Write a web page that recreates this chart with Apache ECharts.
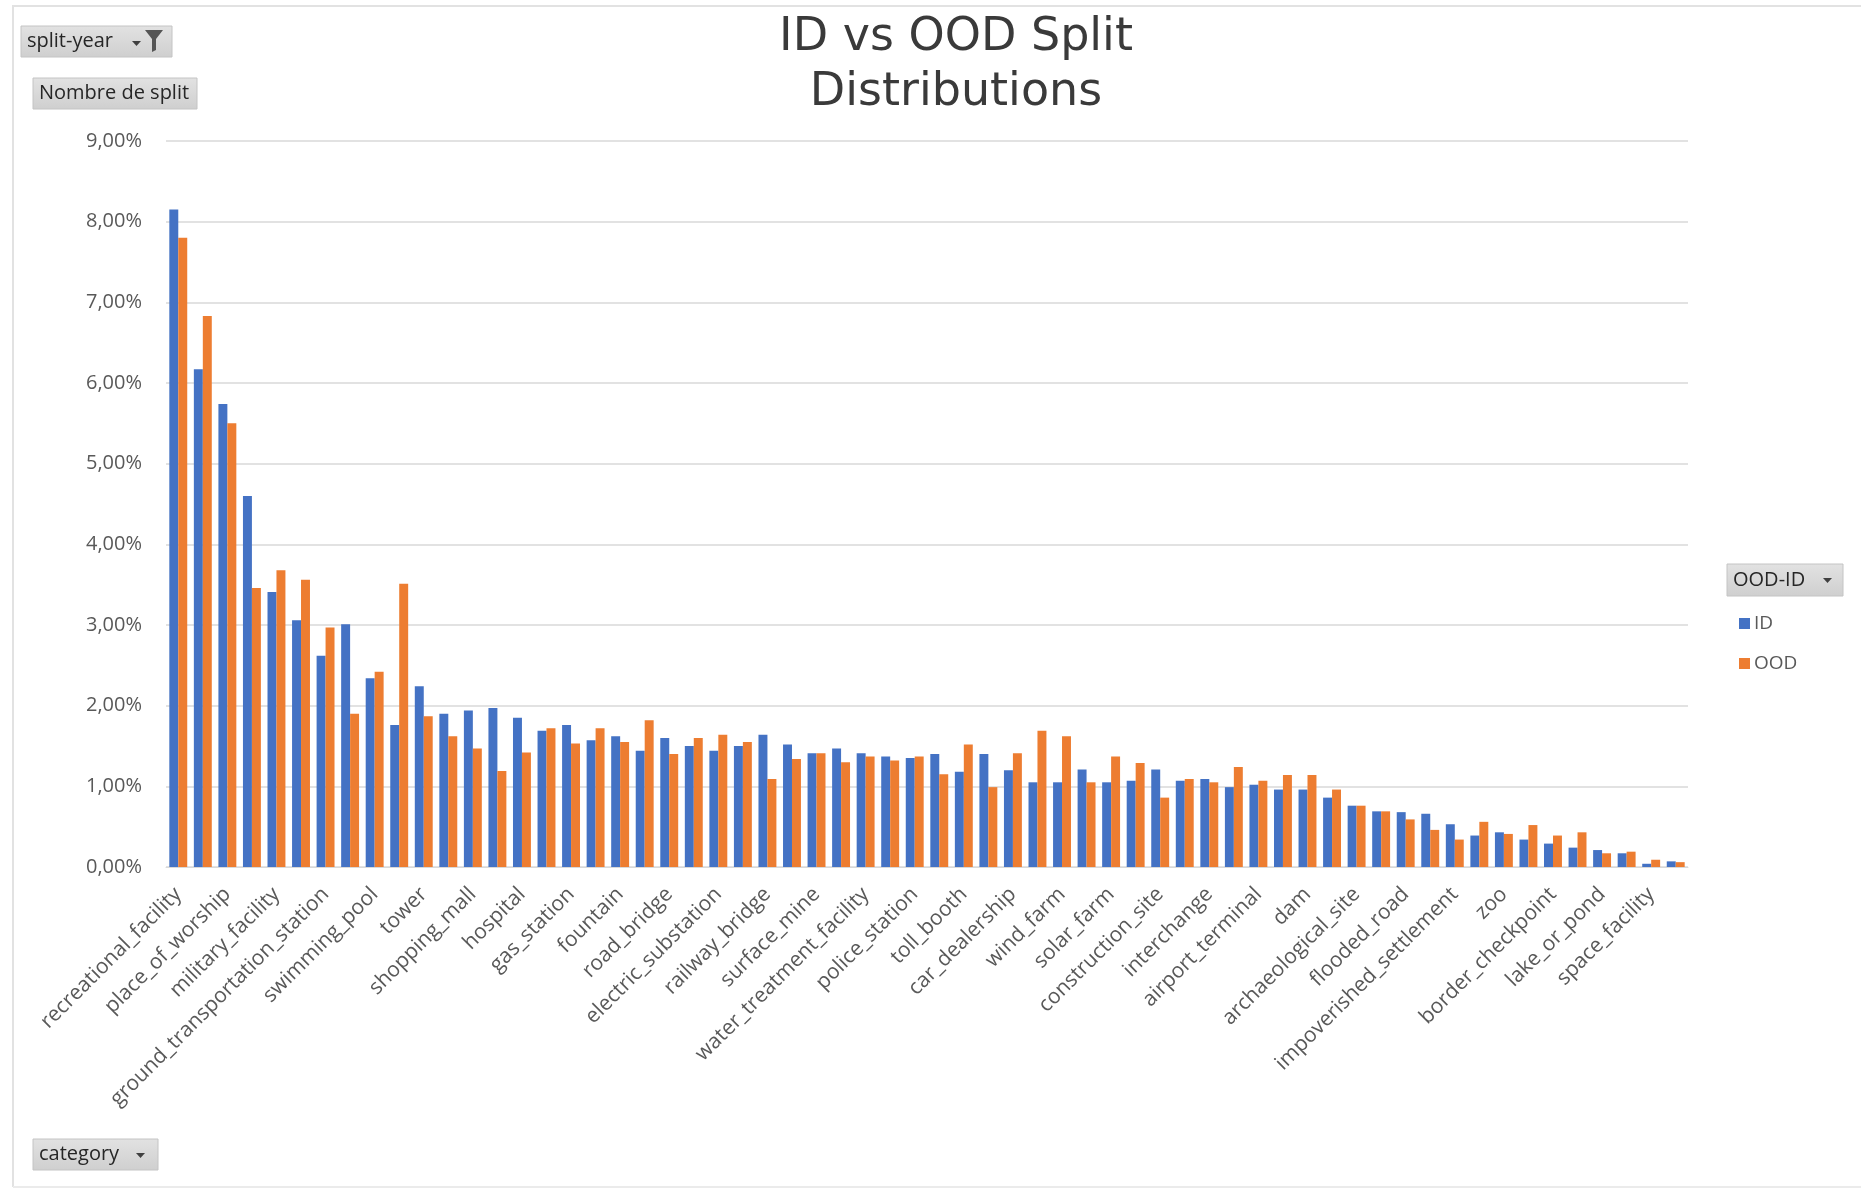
<!DOCTYPE html>
<html>
<head>
<meta charset="utf-8">
<title>ID vs OOD Split Distributions</title>
<script src="https://cdn.jsdelivr.net/npm/echarts@6/dist/echarts.min.js"></script>
<style>
  html, body { margin: 0; padding: 0; background: #ffffff; }
  #chart { width: 1861px; height: 1189px; }
</style>
</head>
<body>
<div id="chart"></div>
<script>
// Categories (every other one is labelled on the axis)
const categories = [
  'recreational_facility', 'airport', 'place_of_worship', 'airport_hangar',
  'military_facility', 'amusement_park', 'ground_transportation_station', 'aquaculture',
  'swimming_pool', 'barn', 'tower', 'burial_site',
  'shopping_mall', 'crop_field', 'hospital', 'debris_or_rubble',
  'gas_station', 'educational_institution', 'fountain', 'factory_or_powerplant',
  'road_bridge', 'fire_station', 'electric_substation', 'golf_course',
  'railway_bridge', 'helipad', 'surface_mine', 'lighthouse',
  'water_treatment_facility', 'multi-unit_residential', 'police_station', 'nuclear_powerplant',
  'toll_booth', 'office_building', 'car_dealership', 'oil_or_gas_facility',
  'wind_farm', 'park', 'solar_farm', 'parking_lot_or_garage',
  'construction_site', 'port', 'interchange', 'prison',
  'airport_terminal', 'race_track', 'dam', 'runway',
  'archaeological_site', 'shipyard', 'flooded_road', 'single-unit_residential',
  'impoverished_settlement', 'smokestack', 'zoo', 'stadium',
  'border_checkpoint', 'storage_tank', 'lake_or_pond', 'tunnel_opening',
  'space_facility', 'waste_disposal'
];

// Share of samples per category (%), in-distribution split
const idShare = [
  8.15, 6.17, 5.74, 4.60, 3.41, 3.06, 2.62, 3.01, 2.34, 1.76,
  2.24, 1.90, 1.94, 1.97, 1.85, 1.69, 1.76, 1.57, 1.62, 1.44,
  1.60, 1.50, 1.44, 1.50, 1.64, 1.52, 1.41, 1.47, 1.41, 1.37,
  1.35, 1.40, 1.18, 1.40, 1.20, 1.05, 1.05, 1.21, 1.05, 1.07,
  1.21, 1.07, 1.09, 0.99, 1.02, 0.96, 0.96, 0.86, 0.76, 0.69,
  0.68, 0.66, 0.53, 0.39, 0.43, 0.34, 0.29, 0.24, 0.21, 0.17,
  0.04, 0.07
];

// Share of samples per category (%), out-of-distribution split
const oodShare = [
  7.80, 6.83, 5.50, 3.46, 3.68, 3.56, 2.97, 1.90, 2.42, 3.51,
  1.87, 1.62, 1.47, 1.19, 1.42, 1.72, 1.53, 1.72, 1.55, 1.82,
  1.40, 1.60, 1.64, 1.55, 1.09, 1.34, 1.41, 1.30, 1.37, 1.32,
  1.37, 1.15, 1.52, 0.99, 1.41, 1.69, 1.62, 1.05, 1.37, 1.29,
  0.86, 1.09, 1.05, 1.24, 1.07, 1.14, 1.14, 0.96, 0.76, 0.69,
  0.59, 0.46, 0.34, 0.56, 0.41, 0.52, 0.39, 0.43, 0.17, 0.19,
  0.09, 0.06
];

const seriesNames = ['ID', 'OOD'];
const seriesColors = ['#4472C4', '#ED7D31'];

// y-axis ticks: 0,00% .. 9,00%
const yMin = 0, yMax = 9, yStep = 1;
const pctLabel = v => v.toFixed(2).replace('.', ',') + '%';

const labelFont = "'Open Sans', 'Liberation Sans', sans-serif";
const labelColor = '#595959';

// Grey pivot-style field buttons
const btnFill = new echarts.graphic.LinearGradient(0, 0, 0, 1, [
  { offset: 0, color: '#E2E2E2' },
  { offset: 1, color: '#CFCFCF' }
]);
function fieldButton(x, y, w, h, text, extra) {
  const children = [
    { type: 'rect', shape: { x: 0, y: 0, width: w, height: h },
      style: { fill: btnFill, stroke: '#C4C4C4', lineWidth: 1 } },
    { type: 'text', x: 6, y: h / 2,
      style: { text: text, fill: '#262626', font: "20px 'Open Sans', sans-serif",
               verticalAlign: 'middle', letterSpacing: -0.5 } }
  ];
  return { type: 'group', x: x, y: y, children: children.concat(extra || []) };
}
function dropArrow(x, y) {
  return { type: 'polygon', shape: { points: [[x, y], [x + 9, y], [x + 4.5, y + 5]] },
           style: { fill: '#404040' } };
}

const chart = echarts.init(document.getElementById('chart'), null, { renderer: 'canvas' });

chart.setOption({
  backgroundColor: '#ffffff',
  animation: false,
  title: {
    text: 'ID vs OOD Split\nDistributions',
    left: 951,
    top: 6,
    textAlign: 'center',
    textStyle: {
      fontFamily: "'DejaVu Sans', sans-serif",
      fontWeight: 'normal',
      fontSize: 46,
      lineHeight: 55,
      color: '#3a3a3a'
    }
  },
  legend: {
    data: seriesNames,
    orient: 'vertical',
    left: 1734,
    top: 609,
    icon: 'rect',
    itemWidth: 11,
    itemHeight: 11,
    itemGap: 21,
    textStyle: { fontFamily: labelFont, fontSize: 19, color: labelColor, padding: [0, 0, 0, -1] }
  },
  grid: {
    left: 166,
    right: 173,
    top: 141,
    bottom: 322,
    containLabel: false
  },
  xAxis: {
    type: 'category',
    data: categories,
    axisTick: { show: false },
    axisLine: { lineStyle: { color: '#D9D9D9', width: 1 } },
    axisLabel: {
      interval: 1,
      rotate: 45,
      margin: 24,
      fontFamily: labelFont,
      fontSize: 21,
      color: labelColor
    }
  },
  yAxis: {
    type: 'value',
    min: yMin,
    max: yMax,
    interval: yStep,
    axisLine: { show: false },
    axisTick: { show: false },
    splitLine: { lineStyle: { color: '#D9D9D9', width: 1.5 } },
    axisLabel: {
      formatter: pctLabel,
      margin: 24,
      fontFamily: labelFont,
      fontSize: 20,
      color: labelColor
    }
  },
  series: [
    { name: seriesNames[0], type: 'bar', data: idShare, barGap: '0%', barCategoryGap: '27%',
      itemStyle: { color: seriesColors[0] } },
    { name: seriesNames[1], type: 'bar', data: oodShare, barGap: '0%', barCategoryGap: '27%',
      itemStyle: { color: seriesColors[1] } }
  ],
  graphic: [
    // sheet frame
    { type: 'polyline', shape: { points: [[13, 1187], [13, 6], [1861, 6]] },
      style: { stroke: '#E2E2E2', lineWidth: 2, fill: null } },
    { type: 'line', shape: { x1: 13, y1: 1187, x2: 1861, y2: 1187 },
      style: { stroke: '#EBEBEB', lineWidth: 2 } },
    fieldButton(21, 26, 151, 31, 'split-year', [
      dropArrow(111, 15),
      { type: 'polygon',
        shape: { points: [[124, 4], [142, 4], [135, 13], [135, 24], [131, 26], [131, 13]] },
        style: { fill: '#555555' } }
    ]),
    fieldButton(33, 78, 164, 31, 'Nombre de split'),
    fieldButton(33, 1139, 125, 31, 'category', [dropArrow(103, 14)]),
    fieldButton(1727, 564, 116, 32, 'OOD-ID', [dropArrow(96, 14)])
  ]
});
</script>
</body>
</html>
